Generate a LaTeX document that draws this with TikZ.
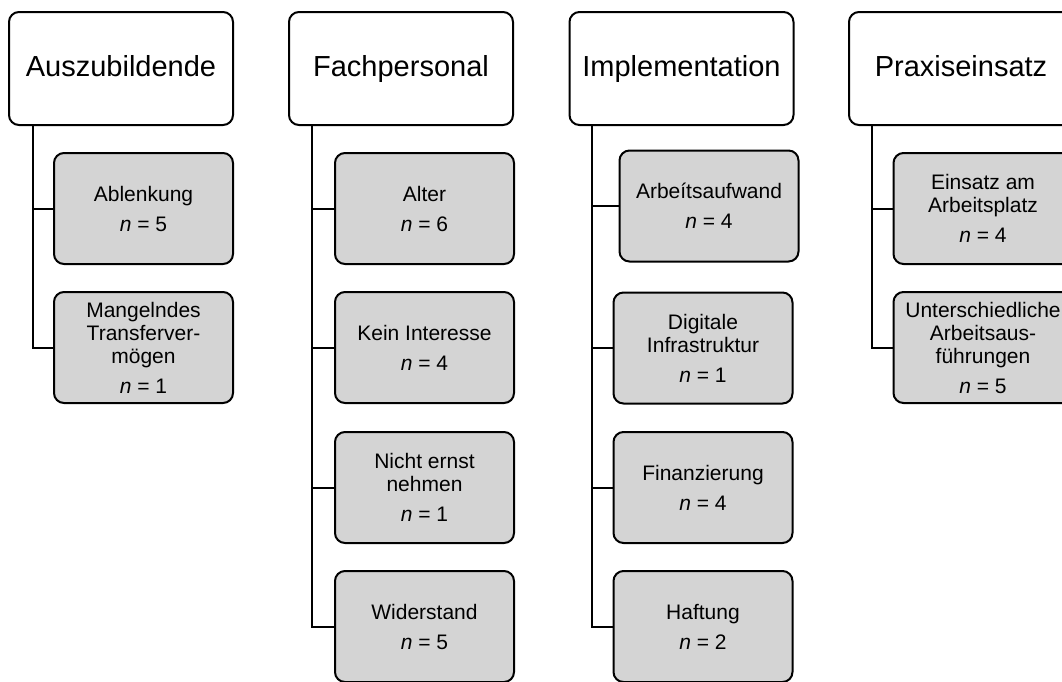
\documentclass[tikz,border=0pt]{standalone}
\usepackage{fontspec}
\setmainfont{Liberation Sans}
\begin{document}
\begin{tikzpicture}[x=1pt,y=-1pt,
  head/.style={draw=black, line width=2pt, fill=white, rounded corners=10pt,
    minimum width=224pt, minimum height=113pt, inner sep=0pt,
    text height=21pt, text depth=6pt,
    font=\fontsize{29}{34}\selectfont},
  item/.style={draw=black, line width=2pt, fill=black!17, rounded corners=10pt,
    minimum width=179pt, minimum height=111pt, inner sep=0pt, align=center,
    font=\fontsize{21}{23}\selectfont},
  link/.style={draw=black, line width=2pt}]
\useasboundingbox (0,0) rectangle (1062,681);
\clip (0,0) rectangle (1062,681);

% column 1
\node[head] (h1) at (121,68.5) {Auszubildende};
\node[item] (a1) at (143.5,208.5) {Ablenkung\\[7pt]\textit{n} = 5};
\node[item] (a2) at (143.5,347.5) {Mangelndes\\Transferver-\\mögen\\[7pt]\textit{n} = 1};
\coordinate (v1) at (33,0);
\draw[link] (v1 |- h1.south) |- (a2.west);
\draw[link] (v1 |- a1.west) -- (a1.west);

% column 2
\node[head] (h2) at (401,68.5) {Fachpersonal};
\node[item] (b1) at (424.5,208.5) {Alter\\[7pt]\textit{n} = 6};
\node[item] (b2) at (424.5,347.5) {Kein Interesse\\[7pt]\textit{n} = 4};
\node[item] (b3) at (424.5,487.5) {Nicht ernst\\nehmen\\[7pt]\textit{n} = 1};
\node[item] (b4) at (424.5,626.5) {Widerstand\\[7pt]\textit{n} = 5};
\coordinate (v2) at (312,0);
\draw[link] (v2 |- h2.south) |- (b4.west);
\draw[link] (v2 |- b1.west) -- (b1.west);
\draw[link] (v2 |- b2.west) -- (b2.west);
\draw[link] (v2 |- b3.west) -- (b3.west);

% column 3
\node[head] (h3) at (681.5,68.5) {Implementation};
\node[item] (c1) at (709,206) {Arbeítsaufwand\\[7pt]\textit{n} = 4};
\node[item] (c2) at (703,348) {Digitale\\Infrastruktur\\[7pt]\textit{n} = 1};
\node[item] (c3) at (703,487.5) {Finanzierung\\[7pt]\textit{n} = 4};
\node[item] (c4) at (703,626.5) {Haftung\\[7pt]\textit{n} = 2};
\coordinate (v3) at (592,0);
\draw[link] (v3 |- h3.south) |- (c4.west);
\draw[link] (v3 |- c1.west) -- (c1.west);
\draw[link] (v3 |- c2.west) -- (c2.west);
\draw[link] (v3 |- c3.west) -- (c3.west);

% column 4
\node[head] (h4) at (961,68.5) {Praxiseinsatz};
\node[item] (d1) at (983,208.5) {Einsatz am\\Arbeitsplatz\\[7pt]\textit{n} = 4};
\node[item] (d2) at (983,347.5) {Unterschiedliche\\Arbeitsaus-\\führungen\\[7pt]\textit{n} = 5};
\coordinate (v4) at (872,0);
\draw[link] (v4 |- h4.south) |- (d2.west);
\draw[link] (v4 |- d1.west) -- (d1.west);
\end{tikzpicture}
\end{document}
